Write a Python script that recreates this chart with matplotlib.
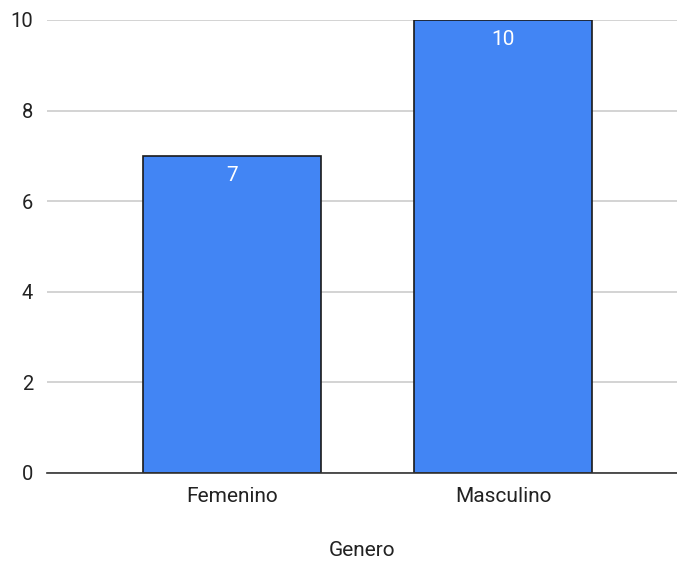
import matplotlib
matplotlib.use("Agg")
import matplotlib.pyplot as plt

categories = ["Femenino", "Masculino"]
values = [7, 10]
y_ticks = [0, 2, 4, 6, 8, 10]

plt.rcParams['font.family'] = ['Roboto', 'DejaVu Sans']

fig = plt.figure(figsize=(6.77, 5.63), dpi=100)
ax = fig.add_axes([47 / 677, 1 - 473 / 563, 630 / 677, 453 / 563])

x = list(range(len(categories)))
bars = ax.bar(x, values, width=0.655, color="#4285F4", edgecolor="#1a1a1a",
              linewidth=1.2, zorder=3)

# value labels inside the top of each bar
for b, v in zip(bars, values):
    ax.text(b.get_x() + b.get_width() / 2, v - 0.22, str(v), ha="center", va="top",
            color="white", fontsize=15, zorder=4)

ax.set_xlim(-0.68, 1.64)
ax.set_ylim(0, 10)
ax.set_yticks(y_ticks)
ax.set_yticklabels([str(t) for t in y_ticks], fontsize=14.5, color="#222222")
ax.set_xticks(x)
ax.set_xticklabels(categories, fontsize=15, color="#222222")
ax.tick_params(axis="y", length=0, pad=10)
ax.tick_params(axis="x", length=0, pad=10)
ax.yaxis.grid(True, color="#cccccc", linewidth=1.2, zorder=0)
ax.set_axisbelow(True)
for s in ["top", "right", "left"]:
    ax.spines[s].set_visible(False)
ax.spines["bottom"].set_color("#333333")
ax.spines["bottom"].set_linewidth(1.2)
ax.spines["bottom"].set_zorder(5)

ax.set_xlabel("Genero", fontsize=15, color="#222222", labelpad=25)

fig.savefig("out.png", dpi=100)
